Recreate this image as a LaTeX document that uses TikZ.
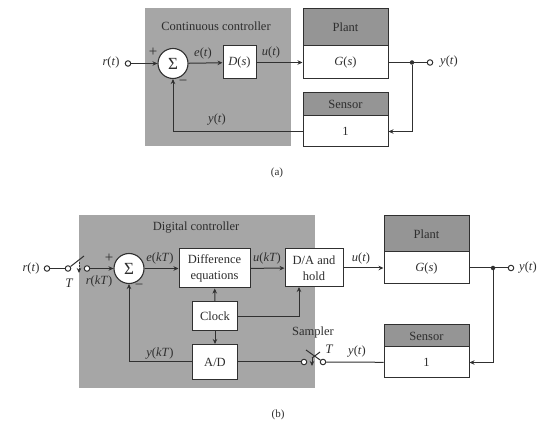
\documentclass[tikz,border=0pt]{standalone}
\usepackage{fontspec}
\setmainfont{Liberation Serif}
\usetikzlibrary{arrows.meta}
\definecolor{panel}{HTML}{A6A6A6}
\definecolor{ink}{HTML}{303030}
\definecolor{txt}{HTML}{2E2E2E}
\newcommand{\vi}[1]{\textit{#1}}
\tikzset{
  lab/.style={text=txt,font=\fontsize{12.5}{14.5}\selectfont,inner sep=0pt,align=center},
  sgn/.style={lab,font=\fontsize{15}{15}\selectfont},
  panelbox/.style={fill=panel,draw=none},
  wb/.style={draw=ink,fill=white,line width=1pt,inner sep=0pt,text=txt,font=\fontsize{12.5}{15.5}\selectfont,align=center},
  gb/.style={wb,fill=panel!90!black},
  term/.style={circle,draw=ink,fill=white,line width=1pt,minimum size=5.5pt,inner sep=0pt},
  sumn/.style={circle,draw=ink,fill=white,line width=1.1pt,minimum size=30pt,inner sep=0pt,text=txt,font=\fontsize{17}{18}\selectfont},
  wire/.style={draw=ink,line width=1pt},
  arr/.style={wire,-{Stealth[length=5pt,width=4.5pt]}},
  jn/.style={circle,fill=ink,minimum size=4.5pt,inner sep=0pt}
}
\begin{document}
\begin{tikzpicture}[x=1pt,y=-1pt]
\useasboundingbox (0,0) rectangle (539,422);
% (a)
\node[panelbox,minimum width=146pt,minimum height=138pt] (pa) at (218,77) {};
\node[lab] (tca) at (216,26) {Continuous controller};
\node[gb,minimum width=85pt,minimum height=37pt] (planta) at (345.5,27.5) {Plant};
\node[wb,minimum width=85pt,minimum height=33pt] (ga) at (345.5,62.5) {\vi{G}(\vi{s})};
\node[gb,minimum width=85pt,minimum height=23pt] (sensa) at (345.5,104.5) {Sensor};
\node[wb,minimum width=85pt,minimum height=31pt] (onea) at (345.5,131.5) {1};
\node[sumn] (suma) at (173,63.5) {Σ};
\node[wb,minimum width=33pt,minimum height=33pt] (da) at (239.5,62.5) {\vi{D}(\vi{s})};
\node[term] (ra) at (128,63.5) {};
\node[lab] (rla) at (111,62) {\vi{r}(\vi{t})};
\node[jn] (ja) at (412,62.5) {};
\node[term] (ya) at (430,62.5) {};
\node[lab] (yla) at (449,62) {\vi{y}(\vi{t})};
\draw[arr] (ra) -- (suma);
\draw[arr] (suma) -- (da);
\draw[arr] (da) -- (ga);
\draw[wire] (ga) -- (ja);
\draw[wire] (ja) -- (ya);
\draw[arr] (ja) |- (onea);
\draw[arr] (onea) -| (suma);
\node[sgn] at (153,52) {+};
\node[sgn] at (183,83) {−};
\node[lab] at (203,53) {\vi{e}(\vi{t})};
\node[lab] at (271,52) {\vi{u}(\vi{t})};
\node[lab] at (217,120) {\vi{y}(\vi{t})};
\node[lab,font=\fontsize{11}{13}\selectfont] at (277,173) {(a)};
% (b)
\node[panelbox,minimum width=236pt,minimum height=173pt] (pb) at (197,301.5) {};
\node[lab] (tcb) at (196,228) {Digital controller};
\node[gb,minimum width=85pt,minimum height=36pt] (plantb) at (426.5,234) {Plant};
\node[wb,minimum width=85pt,minimum height=32pt] (gb2) at (426.5,268) {\vi{G}(\vi{s})};
\node[gb,minimum width=85pt,minimum height=22pt] (sensb) at (426.5,336) {Sensor};
\node[wb,minimum width=85pt,minimum height=31pt] (oneb) at (426.5,362.5) {1};
\node[sumn] (sumb) at (129,268.5) {Σ};
\node[wb,minimum width=71pt,minimum height=39pt] (diff) at (214.5,268.5) {Difference\\equations};
\node[wb,minimum width=58pt,minimum height=38pt] (dab) at (314,268) {D/A and\\hold};
\node[wb,minimum width=45pt,minimum height=29pt] (clock) at (215,316.5) {Clock};
\node[wb,minimum width=45pt,minimum height=35pt] (ad) at (215,362) {A/D};
\node[term] (rb) at (47,268.5) {};
\node[lab] (rlb) at (31,268) {\vi{r}(\vi{t})};
\node[term] (s1) at (68,268.5) {};
\node[term] (s2) at (87,268.5) {};
\coordinate (b1) at (84,256);
\coordinate (b1a) at (79,262);
\coordinate (b1b) at (79,273);
\draw[wire] (rb) -- (s1);
\draw[wire] (s1) -- (b1);
\draw[arr,dash pattern=on 2pt off 1pt] (b1a) -- (b1b);
\draw[arr] (s2) -- (sumb);
\draw[arr] (sumb) -- (diff);
\draw[arr] (diff) -- (dab);
\draw[arr] (dab) -- (gb2);
\node[jn] (jb) at (493,268) {};
\node[term] (yb) at (511,268) {};
\node[lab] (ylb) at (528,268) {\vi{y}(\vi{t})};
\draw[wire] (gb2) -- (jb);
\draw[wire] (jb) -- (yb);
\draw[arr] (jb) |- (oneb);
\draw[arr] (clock) -- (diff);
\draw[arr] (clock) -- (ad);
\coordinate (dain) at (299,287);
\draw[arr] (clock) -| (dain);
\draw[arr] (ad) -| (sumb);
\node[term] (s3) at (304,362) {};
\node[term] (s4) at (323,362) {};
\coordinate (b2) at (306,350);
\coordinate (b2s) at (320,352);
\coordinate (b2a) at (312,358);
\coordinate (b2b) at (312,366);
\draw[wire] (ad) -- (s3);
\draw[wire] (b2) -- (s4);
\draw[wire] (b2s) -- (b2a);
\draw[arr] (b2a) -- (b2b);
\draw[wire] (s4) -- (oneb);
\node[sgn] at (109,258) {+};
\node[sgn] at (139,287) {−};
\node[lab,font=\fontsize{13}{15}\selectfont\itshape] at (69,283) {T};
\node[lab] at (99,281) {\vi{r}(\vi{kT})};
\node[lab] at (160,258) {\vi{e}(\vi{kT})};
\node[lab] at (267,258) {\vi{u}(\vi{kT})};
\node[lab] at (160,354) {\vi{y}(\vi{kT})};
\node[lab] at (361,258) {\vi{u}(\vi{t})};
\node[lab] at (357,352) {\vi{y}(\vi{t})};
\node[lab] at (313,332) {Sampler};
\node[lab,font=\fontsize{13}{15}\selectfont\itshape] at (329,349) {T};
\node[lab,font=\fontsize{11}{13}\selectfont] at (278,415) {(b)};
\end{tikzpicture}
\end{document}
